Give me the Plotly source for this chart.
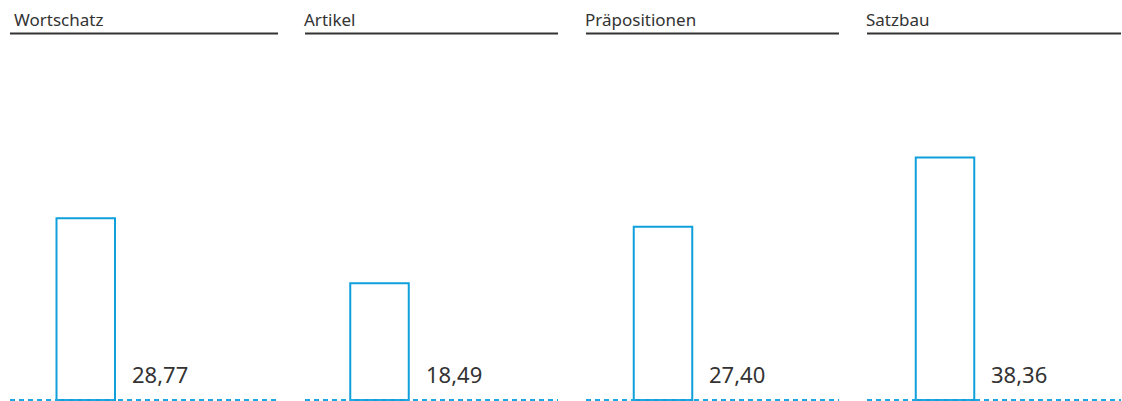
import plotly.graph_objects as go

categories = ["Wortschatz", "Artikel", "Präpositionen", "Satzbau"]
values = [28.77, 18.49, 27.40, 38.36]
value_labels = [f"{v:.2f}".replace(".", ",") for v in values]

W, H = 1122, 401

def px_x(p):  # page x pixel -> paper x
    return p / W

def px_y(p):  # page y pixel -> paper y
    return 1 - p / H

BAR_COLOR = "#0fa0dc"
DASH_COLOR = "#1ea7e0"
TEXT_COLOR = "#333333"
FONT = "Noto Sans"

# panel extents in pixels (left, right), title text left, bar center
panels_px = [(10, 278), (305, 558), (586, 839), (867, 1121)]
title_left_px = [15, 305, 586, 867]
bar_center_px = [85.75, 379.5, 663, 945]
bar_px = 58.5
bar_w = 0.8
px_per_unit = bar_px / bar_w

y_zero_px = 400
y_bottom_px = 401
y_top_px = 50
y_scale = 6.32  # px per value unit
y_min = -(y_bottom_px - y_zero_px) / y_scale
y_max = (y_zero_px - y_top_px) / y_scale
y_domain = [px_y(y_bottom_px), px_y(y_top_px)]

fig = go.Figure()
shapes = []
annotations = []

for i, (cat, val, lab) in enumerate(zip(categories, values, value_labels)):
    n = "" if i == 0 else str(i + 1)
    xa, ya = "x" + n, "y" + n
    fig.add_trace(go.Bar(
        x=[cat], y=[val], xaxis=xa, yaxis=ya, width=bar_w,
        marker=dict(color="white", line=dict(color=BAR_COLOR, width=2)),
        hoverinfo="x+y",
    ))
    left, right = panels_px[i]
    pw = right - left
    c = bar_center_px[i] - left
    xr = [-c / px_per_unit, (pw - c) / px_per_unit]
    fig.update_layout(**{
        "xaxis" + n: dict(domain=[px_x(left), px_x(right)], range=xr, type="category",
                          visible=False, anchor=ya, fixedrange=True),
        "yaxis" + n: dict(domain=y_domain, range=[y_min, y_max], visible=False,
                          anchor=xa, fixedrange=True),
    })
    # title underline
    shapes.append(dict(type="line", xref=xa + " domain", x0=0, x1=1,
                       yref="paper", y0=px_y(33.5), y1=px_y(33.5),
                       line=dict(color=TEXT_COLOR, width=2)))
    # dashed baseline
    shapes.append(dict(type="line", xref=xa + " domain", x0=0, x1=1,
                       yref=ya, y0=0, y1=0,
                       line=dict(color=DASH_COLOR, width=2, dash="5px,4px")))
    # panel title
    annotations.append(dict(text=cat, xref="paper", x=px_x(title_left_px[i]), xanchor="left",
                            xshift=-2, yref="paper", y=px_y(19.5), yanchor="middle",
                            borderpad=0,
                            showarrow=False, font=dict(family=FONT, size=17, color=TEXT_COLOR)))
    # value label
    annotations.append(dict(text=lab, xref=xa, x=cat, xanchor="left", xshift=bar_px / 2 + 15,
                            yref=ya, y=0, yanchor="bottom", yshift=9,
                            showarrow=False, font=dict(family=FONT, size=22, color=TEXT_COLOR)))

fig.update_layout(
    width=W, height=H, margin=dict(l=0, r=0, t=0, b=0),
    paper_bgcolor="white", plot_bgcolor="white", showlegend=False,
    shapes=shapes, annotations=annotations,
)

fig.write_html(
    "out.html",
    config={"displayModeBar": False},
    post_script="document.body.style.margin='0';document.body.style.overflow='hidden';"
                "document.documentElement.style.overflow='hidden';",
)
